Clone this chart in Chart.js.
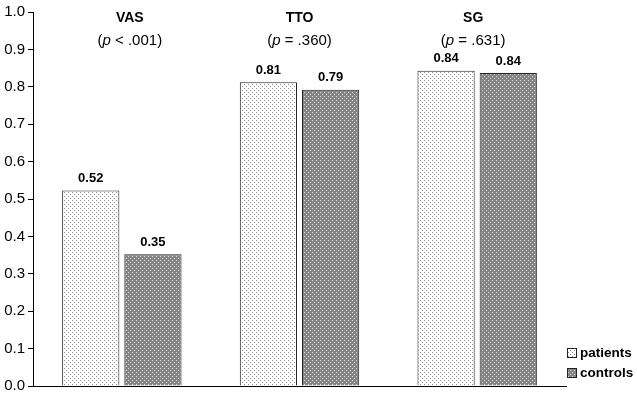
<!DOCTYPE html>
<html>
<head>
<meta charset="utf-8">
<script src="https://cdn.jsdelivr.net/npm/chart.js@4"></script>
<style>
    html, body { margin: 0; padding: 0; background: #fff; }
    #wrap { width: 637px; height: 398px; }
</style>
</head>
<body>
<div id="wrap"><canvas id="utilityChart"></canvas></div>
<script>
// Chart values
const categories = ['VAS', 'TTO', 'SG'];
const pLabels = ['< .001', '= .360', '= .631'];
const patients = [0.523, 0.812, 0.843];
const controls = [0.352, 0.792, 0.837];
const yTicks = [0, 0.1, 0.2, 0.3, 0.4, 0.5, 0.6, 0.7, 0.8, 0.9, 1.0];

const FONT = "'Liberation Sans', Arial, sans-serif";
// titles in the original sit a little off the group centre
const titleShift = [8, 0, -4];

/**
 * Small dotted fill, like the old print-style hatch
 */
function makePattern(bg, dot) {
    const c = document.createElement('canvas');
    c.width = 4;
    c.height = 4;
    const g = c.getContext('2d');
    g.fillStyle = bg;
    g.fillRect(0, 0, 4, 4);
    g.fillStyle = dot;
    g.fillRect(0, 0, 1, 1);
    g.fillRect(2, 2, 1, 1);
    return g.createPattern(c, 'repeat');
}

const patientFill = makePattern('#ffffff', '#8c8c8c');
const controlFill = makePattern('#858585', '#d8d8d8');

// group titles, value labels and the legend
const annotate = {
    id: 'annotate',
    afterDatasetsDraw(chart) {
        const ctx = chart.ctx;
        const x = chart.scales.x;
        ctx.save();
        ctx.fillStyle = '#000';
        ctx.textBaseline = 'middle';

        categories.forEach((cat, i) => {
            const cx = x.getPixelForValue(i) + titleShift[i];
            ctx.textAlign = 'center';
            ctx.font = 'bold 14px ' + FONT;
            ctx.fillText(cat, cx, 18);

            // "(p < .001)" with italic p
            const parts = [['(', '15px'], ['p', 'italic 15px'], [' ' + pLabels[i] + ')', '15px']];
            let total = 0;
            parts.forEach(p => { ctx.font = p[1] + ' ' + FONT; total += ctx.measureText(p[0]).width; });
            let px = cx - total / 2;
            ctx.textAlign = 'left';
            parts.forEach(p => {
                ctx.font = p[1] + ' ' + FONT;
                ctx.fillText(p[0], px, 41);
                px += ctx.measureText(p[0]).width;
            });
        });

        // values over bars
        ctx.textAlign = 'center';
        ctx.font = 'bold 13px ' + FONT;
        chart.data.datasets.forEach((ds, di) => {
            chart.getDatasetMeta(di).data.forEach((bar, i) => {
                ctx.fillText(ds.data[i].toFixed(2), bar.x, bar.y - 12);
            });
        });

        // legend, bottom right
        const items = [['patients', patientFill], ['controls', controlFill]];
        ctx.textAlign = 'left';
        items.forEach((it, k) => {
            const y = 348 + k * 20;
            ctx.fillStyle = it[1];
            ctx.fillRect(567, y, 10, 10);
            ctx.strokeStyle = '#222';
            ctx.lineWidth = 1;
            ctx.strokeRect(567.5, y + 0.5, 9, 9);
            ctx.fillStyle = '#000';
            ctx.font = 'bold 13.5px ' + FONT;
            ctx.fillText(it[0], 580, y + 5.5);
        });
        ctx.restore();
    }
};

new Chart(document.getElementById('utilityChart'), {
    type: 'bar',
    data: {
        labels: categories,
        datasets: [{
            label: 'patients',
            data: patients,
            backgroundColor: patientFill,
            borderColor: '#222',
            borderWidth: 1,
            categoryPercentage: 0.7,
            barPercentage: 0.92
        }, {
            label: 'controls',
            data: controls,
            backgroundColor: controlFill,
            borderColor: '#222',
            borderWidth: 1,
            categoryPercentage: 0.7,
            barPercentage: 0.92
        }]
    },
    options: {
        responsive: true,
        maintainAspectRatio: false,
        animation: false,
        layout: {
            padding: { top: 8, bottom: 8, right: 71, left: 0 }
        },
        plugins: {
            legend: { display: false },
            tooltip: { enabled: false }
        },
        scales: {
            x: {
                ticks: { display: false },
                grid: { display: false, drawTicks: false },
                border: { display: true, color: '#000', width: 1 },
                afterFit: function (scale) { scale.height = 0; }
            },
            y: {
                min: 0,
                max: 1,
                afterBuildTicks: function (scale) {
                    scale.ticks = yTicks.map(v => ({ value: v }));
                },
                ticks: {
                    color: '#000',
                    padding: 3,
                    font: { size: 15, family: FONT },
                    callback: function (value) { return value.toFixed(1); }
                },
                grid: {
                    drawOnChartArea: false,
                    drawTicks: true,
                    tickLength: 5,
                    color: '#000'
                },
                border: { display: true, color: '#000', width: 1 },
                afterFit: function (scale) { scale.width = 33; }
            }
        }
    },
    plugins: [annotate]
});
</script>
</body>
</html>
